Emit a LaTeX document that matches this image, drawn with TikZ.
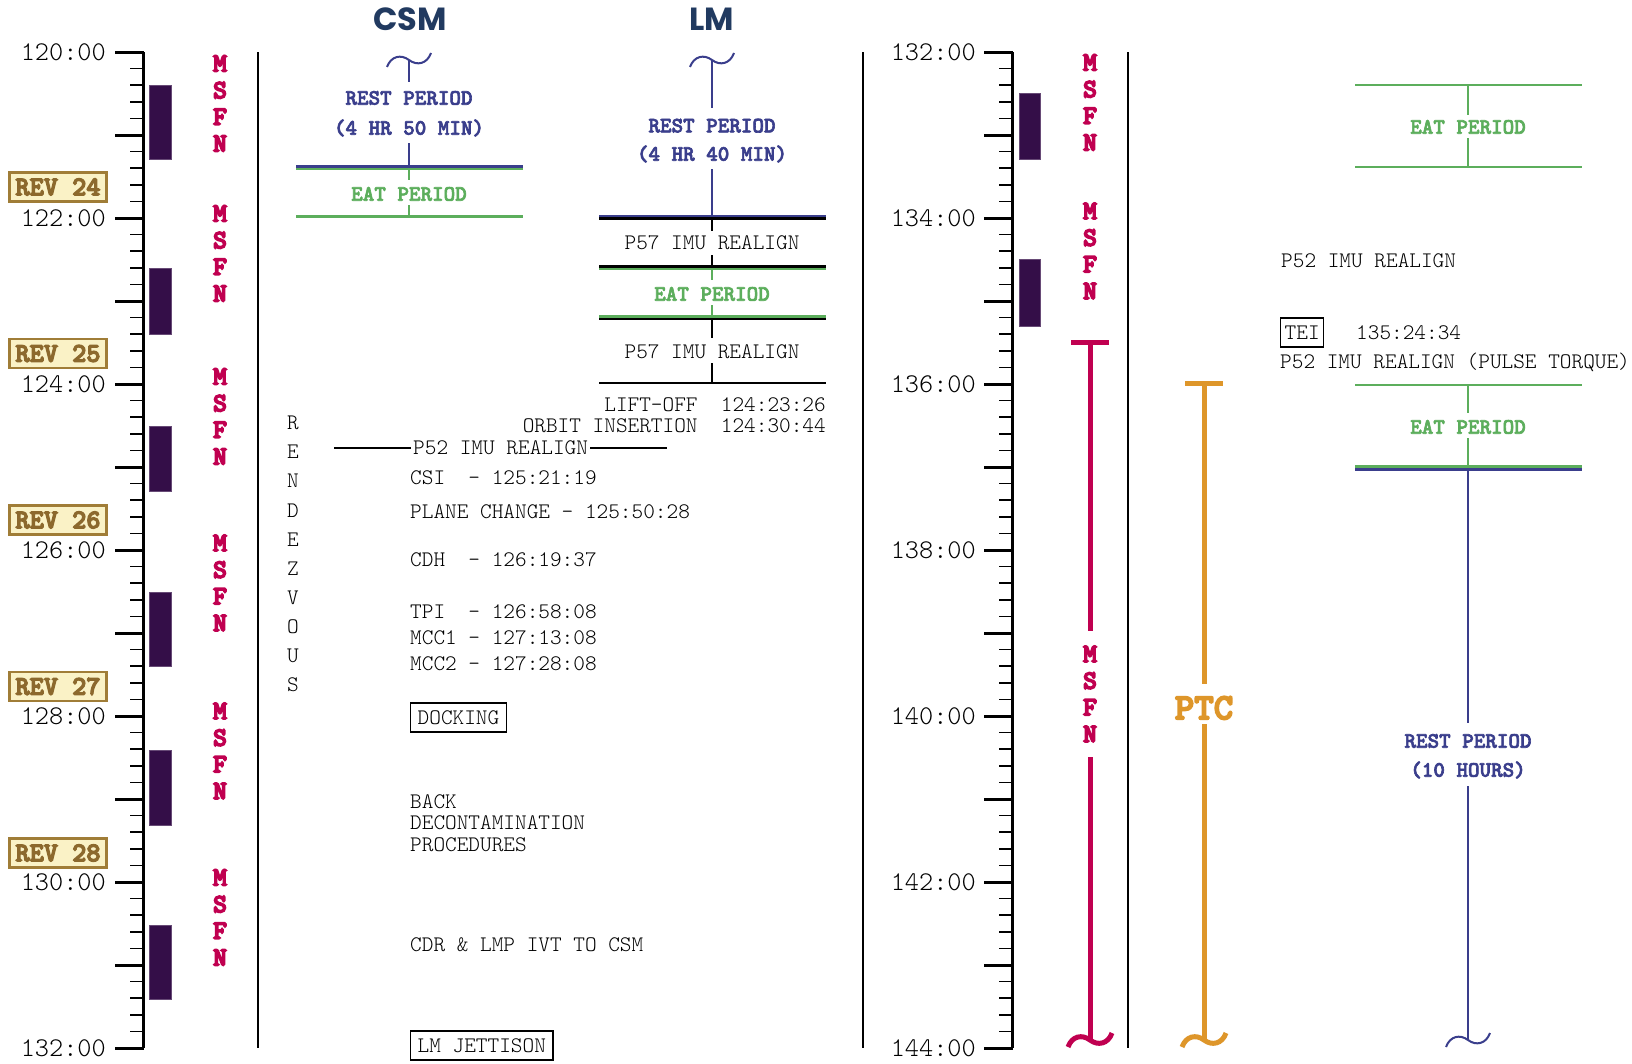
\documentclass[tikz,border=0pt]{standalone}
\usepackage{fontspec}
\newfontfamily\ttlfont{Poppins}
\newfontfamily\ttbold[FakeBold=2.8]{lmmonolt10-bold.otf}
\newfontfamily\ttheavy[FakeBold=4.5]{lmmonolt10-bold.otf}
\newfontfamily\ttmsfn[FakeBold=5.5]{lmmonolt10-bold.otf}
\newfontfamily\ttlight{lmmonolt10-regular.otf}
\definecolor{navy}{RGB}{33,58,96}
\definecolor{rpblue}{RGB}{58,62,140}
\definecolor{eatgreen}{RGB}{92,174,92}
\definecolor{msfnred}{RGB}{192,0,80}
\definecolor{ptcorange}{RGB}{222,150,42}
\definecolor{barpurple}{RGB}{52,14,72}
\definecolor{revfill}{RGB}{250,242,198}
\definecolor{revedge}{RGB}{160,125,55}
\definecolor{revtext}{RGB}{140,105,45}
\newcommand\MSFNgroup[3]{%
  \node[msfn] (#1m) at (#2,{#3-40}) {M};
  \node[msfn] (#1s) at (#2,{#3-13.3}) {S};
  \node[msfn] (#1f) at (#2,{#3+13.3}) {F};
  \node[msfn] (#1n) at (#2,{#3+40}) {N};}
\begin{document}
\begin{tikzpicture}[x=1pt,y=-1pt,
  txt/.style={font=\ttlight\fontsize{22.2}{22.2}\selectfont, text height=13.5pt, text depth=0pt, inner sep=0pt},
  lbl/.style={font=\ttbold\fontsize{22}{22}\selectfont, text height=13.4pt, text depth=0pt, inner sep=0pt},
  ticklbl/.style={font=\ttlight\fontsize{27}{27}\selectfont, text height=16.5pt, text depth=0pt, inner sep=0pt, anchor=east},
  msfn/.style={font=\ttmsfn\fontsize{26.5}{26.5}\selectfont, text=msfnred, inner sep=0pt, text height=16.2pt, text depth=0pt},
  revbox/.style={font=\ttheavy\fontsize{27}{27}\selectfont, text=revtext, fill=revfill, draw=revedge, line width=2.5pt, minimum width=97pt, minimum height=29pt, inner sep=0pt, text height=16.5pt, text depth=0pt},
  boxed/.style={txt, draw=black, line width=1.4pt, inner xsep=7pt, inner ysep=7.7pt},
  ttl/.style={font=\ttlfont\bfseries\fontsize{32}{32}\selectfont, text=navy, inner sep=0pt, text height=23pt, text depth=0pt},
  sepline/.style={line width=1.5pt, black},
  majtick/.style={line width=3pt, black},
  mintick/.style={line width=1.6pt, black},
  hline/.style={line width=2.6pt},
  vline/.style={line width=2pt},
  barbox/.style={fill=barpurple, draw=barpurple!75!white, line width=0.8pt},
  tld/.pic={\draw (-22,7) .. controls (-18,-4) and (-8,-6) .. (0,0) .. controls (8,6) and (18,4) .. (22,-7);}
]
\useasboundingbox (0,0) rectangle (1632,1063);
\fill[white] (0,0) rectangle (1632,1063);

% ---------- axes ----------
\draw[majtick] (143.5,52) -- (143.5,1048);
\draw[majtick] (1012.5,52) -- (1012.5,1048);
\foreach \i in {0,...,60}{
  \pgfmathsetmacro\yy{52+\i*16.6}
  \pgfmathtruncatemacro\mm{mod(\i,5)}
  \ifnum\mm=0
    \draw[majtick] (115,\yy) -- (143.5,\yy);
    \draw[majtick] (984,\yy) -- (1012.5,\yy);
  \else
    \draw[mintick] (130,\yy) -- (143.5,\yy);
    \draw[mintick] (999,\yy) -- (1012.5,\yy);
  \fi
}
\foreach \h [count=\k from 0] in {120,122,124,126,128,130,132}
  \node[ticklbl] (lt\k) at (106,{52+166*\k}) {\h:00};
\foreach \h [count=\k from 0] in {132,134,136,138,140,142,144}
  \node[ticklbl] (rt\k) at (976,{52+166*\k}) {\h:00};

% ---------- separators ----------
\draw[sepline] (258,52) -- (258,1048);
\draw[sepline] (863,52) -- (863,1048);
\draw[sepline] (1128,52) -- (1128,1048);

% ---------- MSFN coverage bars ----------
\foreach \ya/\yb in {85/159,268/334,426/491,592/666,750/825,925/999}
  \draw[barbox] (149,\ya) rectangle (171,\yb);
\foreach \ya/\yb in {93/159,259/326}
  \draw[barbox] (1019,\ya) rectangle (1040,\yb);

% ---------- MSFN labels ----------
\MSFNgroup{ma}{220}{103.5}
\MSFNgroup{mb}{220}{253.5}
\MSFNgroup{mc}{220}{416.5}
\MSFNgroup{md}{220}{583}
\MSFNgroup{me}{220}{751}
\MSFNgroup{mf}{220}{917.5}
\MSFNgroup{mg}{1090}{102.5}
\MSFNgroup{mh}{1090}{251}

% ---------- REV boxes ----------
\node[revbox] (rev24) at (58,187) {REV 24};
\node[revbox] (rev25) at (58,353.5) {REV 25};
\node[revbox] (rev26) at (58,520) {REV 26};
\node[revbox] (rev27) at (58,686.5) {REV 27};
\node[revbox] (rev28) at (58,853) {REV 28};

% ---------- titles ----------
\node[ttl] (csm) at (410,18.5) {CSM};
\node[ttl] (lm) at (712,18.5) {LM};

% ---------- CSM column ----------
\path (409,60) pic[rpblue, line width=2pt] {tld};
\coordinate (csmA) at (409,60);
\coordinate (csmB) at (409,82);
\draw[rpblue, vline] (csmA) -- (csmB);
\node[lbl, text=rpblue] (csmr1) at (409,98) {REST PERIOD};
\node[lbl, text=rpblue] (csmr2) at (409,128) {(4 HR 50 MIN)};
\coordinate (csmC) at (409,143);
\coordinate (csmD) at (409,166.5);
\draw[rpblue, vline] (csmC) -- (csmD);
\draw[rpblue, hline] (296,166.3) -- (523,166.3);
\draw[eatgreen, hline] (296,168.9) -- (523,168.9);
\node[lbl, text=eatgreen] (csme) at (409,194) {EAT PERIOD};
\draw[eatgreen, vline] (409,169) -- (409,180);
\draw[eatgreen, vline] (409,205) -- (409,216.5);
\draw[eatgreen, hline] (296,216.7) -- (523,216.7);

% ---------- LM column ----------
\path (712,60) pic[rpblue, line width=2pt] {tld};
\coordinate (lmA) at (712,60);
\coordinate (lmB) at (712,108);
\draw[rpblue, vline] (lmA) -- (lmB);
\node[lbl, text=rpblue] (lmr1) at (712,125.7) {REST PERIOD};
\node[lbl, text=rpblue] (lmr2) at (712,154) {(4 HR 40 MIN)};
\draw[rpblue, vline] (712,169) -- (712,216);
\draw[rpblue, hline] (599,216.1) -- (826,216.1);
\draw[black, hline] (599,218.7) -- (826,218.7);
\draw[black, vline] (712,219) -- (712,231);
\node[txt] (p57a) at (712,243) {P57 IMU REALIGN};
\draw[black, vline] (712,255) -- (712,267);
\draw[black, hline] (599,266.5) -- (826,266.5);
\draw[eatgreen, hline] (599,269) -- (826,269);
\draw[eatgreen, vline] (712,269) -- (712,280);
\node[lbl, text=eatgreen] (lme) at (712,294) {EAT PERIOD};
\draw[eatgreen, vline] (712,305) -- (712,317);
\draw[eatgreen, hline] (599,316.4) -- (826,316.4);
\draw[black, hline] (599,319) -- (826,319);
\draw[black, vline] (712,319) -- (712,338);
\node[txt] (p57b) at (712,352) {P57 IMU REALIGN};
\draw[black, vline] (712,363) -- (712,383);
\draw[black, hline] (599,383) -- (826,383);
\node[txt, anchor=east] (lift) at (826,405) {LIFT-OFF\ \ 124:23:26};
\node[txt, anchor=east] (orbit) at (826,426) {ORBIT INSERTION\ \ 124:30:44};

% ---------- rendezvous ----------
\foreach \L [count=\k from 0] in {R,E,N,D,E,Z,V,O,U,S}
  \node[txt] (rz\k) at (293,{423+29.1*\k}) {\L};
\coordinate (p52L) at (334,448);
\coordinate (p52R) at (667,448);
\node[txt, anchor=west, inner xsep=2pt] (p52) at (411,448) {P52 IMU REALIGN};
\draw[black, line width=1.6pt] (p52L) -- (p52.west);
\draw[black, line width=1.6pt] (p52.east) -- (p52R);
\node[txt, anchor=west] (csi) at (410,478) {CSI\ \ - 125:21:19};
\node[txt, anchor=west] (plane) at (410,512) {PLANE CHANGE - 125:50:28};
\node[txt, anchor=west] (cdh) at (410,560) {CDH\ \ - 126:19:37};
\node[txt, anchor=west] (tpi) at (410,612) {TPI\ \ - 126:58:08};
\node[txt, anchor=west] (mcc1) at (410,638) {MCC1 - 127:13:08};
\node[txt, anchor=west] (mcc2) at (410,664) {MCC2 - 127:28:08};
\node[boxed, anchor=west] (dock) at (410,717.5) {DOCKING};
\node[txt, anchor=west] (back1) at (410,802) {BACK};
\node[txt, anchor=west] (back2) at (410,823) {DECONTAMINATION};
\node[txt, anchor=west] (back3) at (410,845) {PROCEDURES};
\node[txt, anchor=west] (ivt) at (410,945) {CDR \& LMP IVT TO CSM};
\node[boxed, anchor=west] (jett) at (410,1045.5) {LM JETTISON};

% ---------- right: MSFN bar ----------
\coordinate (redT) at (1090,342.5);
\draw[msfnred, line width=5pt] (1071,342.5) -- (1109,342.5);
\MSFNgroup{mi}{1090}{694}
\draw[msfnred, line width=5pt] (redT) -- (1090,631);
\draw[msfnred, line width=5pt] (1090,757) -- (1090,1040);
\path (1090,1040) pic[msfnred, line width=5pt] {tld};

% ---------- right: PTC bar ----------
\coordinate (ptcT) at (1204,383.5);
\draw[ptcorange, line width=5pt] (1185,383.5) -- (1223,383.5);
\node[font=\ttheavy\fontsize{37}{37}\selectfont, text=ptcorange, inner sep=0pt, text height=22.5pt, text depth=0pt] (ptc) at (1204,708) {PTC};
\draw[ptcorange, line width=5pt] (ptcT) -- (1204,684);
\draw[ptcorange, line width=5pt] (1204,724) -- (1204,1040);
\path (1204,1040) pic[ptcorange, line width=5pt] {tld};

% ---------- right: activities ----------
\draw[eatgreen, hline] (1355,85) -- (1582,85);
\draw[eatgreen, vline] (1468,85) -- (1468,115);
\node[lbl, text=eatgreen] (eat3) at (1468,127) {EAT PERIOD};
\draw[eatgreen, vline] (1468,138) -- (1468,167);
\draw[eatgreen, hline] (1355,167) -- (1582,167);
\node[txt, anchor=west] (p52b) at (1281,261) {P52 IMU REALIGN};
\node[txt, draw=black, line width=1.4pt, inner xsep=4pt, inner ysep=7.7pt, anchor=west] (tei) at (1280,332.5) {TEI};
\node[txt, anchor=west] (teit) at (1356,333) {135:24:34};
\node[txt, anchor=west] (p52c) at (1280,362) {P52 IMU REALIGN (PULSE TORQUE)};
\draw[eatgreen, hline] (1355,385) -- (1582,385);
\draw[eatgreen, vline] (1468,385) -- (1468,413);
\node[lbl, text=eatgreen] (eat4) at (1468,427) {EAT PERIOD};
\draw[eatgreen, vline] (1468,438) -- (1468,467);
\draw[eatgreen, hline] (1355,466.6) -- (1582,466.6);
\draw[rpblue, hline] (1355,469.2) -- (1582,469.2);
\draw[rpblue, vline] (1468,469) -- (1468,723);
\node[lbl, text=rpblue] (rest3a) at (1468,741) {REST PERIOD};
\node[lbl, text=rpblue] (rest3b) at (1468,770) {(10 HOURS)};
\draw[rpblue, vline] (1468,786) -- (1468,1040);
\path (1468,1040) pic[rpblue, line width=2pt] {tld};
\end{tikzpicture}
\end{document}
